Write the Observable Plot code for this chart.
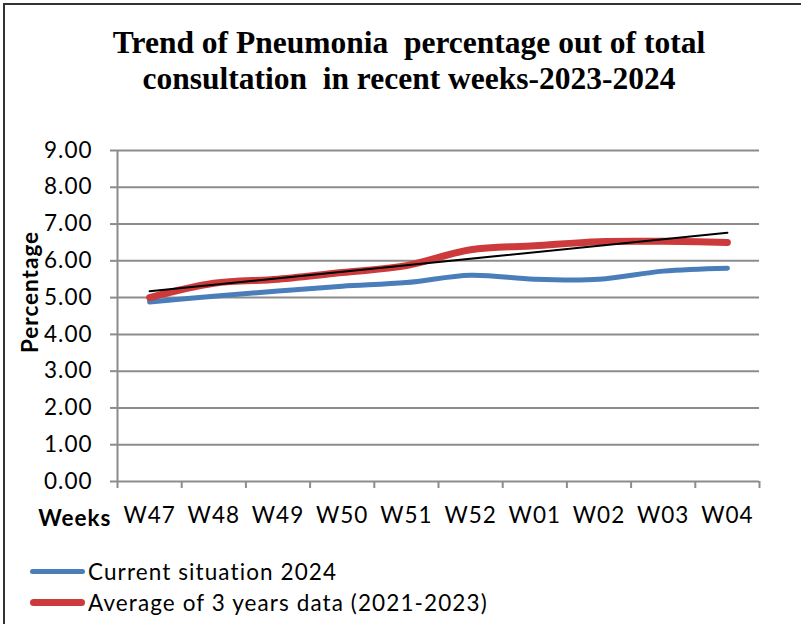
<!DOCTYPE html>
<html>
<head>
<meta charset="utf-8">
<script src="https://cdn.jsdelivr.net/npm/d3@7"></script>
<script src="https://cdn.jsdelivr.net/npm/@observablehq/plot@0.6"></script>
<style>
  html, body { margin: 0; padding: 0; background: #fff; }
  body { width: 801px; height: 624px; position: relative; overflow: hidden; }
  #border { position: absolute; left: 3px; top: 3px; width: 800px; height: 625px; border-left: 2px solid #333; border-top: 2px solid #333; box-sizing: border-box; }
  #title { position: absolute; top: 25px; left: 0; width: 818px; text-align: center; font: bold 31.5px "Liberation Serif", serif; line-height: 36px; color: #000; }
  #chart { position: absolute; top: 130px; left: 0; }
  #legend { position: absolute; left: 30px; top: 556px; font: 22.5px Lato, sans-serif; letter-spacing: 1.1px; color: #000; }
  .row { display: flex; align-items: center; height: 31px; }
  .sw { width: 55px; border-radius: 4px; margin-right: 3px; }
</style>
</head>
<body>
<div id="border"></div>
<div id="title">Trend of Pneumonia&nbsp; percentage out of total<br>consultation&nbsp; in recent weeks-2023-2024</div>
<div id="chart"></div>
<div id="legend"></div>
<script>
const weeks = ["W47", "W48", "W49", "W50", "W51", "W52", "W01", "W02", "W03", "W04"];
const current2024 = [4.88, 5.04, 5.18, 5.31, 5.41, 5.61, 5.50, 5.50, 5.72, 5.80];
const average3y = [5.00, 5.39, 5.50, 5.68, 5.87, 6.30, 6.41, 6.52, 6.53, 6.50];
const seriesNames = ["Current situation 2024", "Average of 3 years data (2021-2023)"];
const colors = ["#4a7ebb", "#cd3a3b"];
const widths = [5, 7];
const yTicks = d3.range(0, 10);

const cur = weeks.map((w, i) => ({i, week: w, v: current2024[i]}));
const avg = weeks.map((w, i) => ({i, week: w, v: average3y[i]}));

const grey = "#8c8c8c";
const plot = Plot.plot({
  width: 801,
  height: 400,
  marginLeft: 117,
  marginRight: 42,
  marginTop: 20,
  marginBottom: 49,
  style: {fontFamily: "Lato, sans-serif", fontSize: "22.5px", letterSpacing: "1px", color: "#000", background: "transparent"},
  x: {type: "linear", domain: [-0.5, weeks.length - 0.5]},
  y: {domain: [0, 9]},
  marks: [
    Plot.gridY({ticks: yTicks.slice(1), stroke: grey, strokeOpacity: 1, strokeWidth: 2}),
    Plot.ruleY([0], {stroke: grey, strokeWidth: 2}),
    Plot.ruleX([-0.5], {stroke: grey, strokeWidth: 2}),
    Plot.axisY({ticks: yTicks, tickSize: 7, tickPadding: 18, tickFormat: d3.format(".2f"), stroke: grey, strokeWidth: 2, label: null}),
    Plot.axisX({ticks: d3.range(-0.5, weeks.length, 1), tickSize: 7, tickFormat: () => "", stroke: grey, strokeWidth: 2, label: null}),
    Plot.axisX({ticks: d3.range(weeks.length), tickSize: 0, tickPadding: 26, tickFormat: i => weeks[i], label: null}),
    Plot.text(["Weeks"], {frameAnchor: "bottom-left", textAnchor: "end", lineAnchor: "middle", dx: -6, dy: 37, fontWeight: "bold"}),
    Plot.text(["Percentage"], {frameAnchor: "left", textAnchor: "middle", lineAnchor: "middle", rotate: -90, dx: -87, dy: -24, fontWeight: "bold"}),
    Plot.line(cur, {x: "i", y: "v", stroke: colors[0], strokeWidth: widths[0], curve: "catmull-rom"}),
    Plot.line(avg, {x: "i", y: "v", stroke: colors[1], strokeWidth: widths[1], curve: "catmull-rom"}),
    Plot.linearRegressionY(avg, {x: "i", y: "v", stroke: "#000", strokeWidth: 2, ci: 0})
  ]
});
document.getElementById("chart").append(plot);

const legend = document.getElementById("legend");
seriesNames.forEach((name, k) => {
  const row = document.createElement("div");
  row.className = "row";
  const sw = document.createElement("div");
  sw.className = "sw";
  sw.style.height = widths[k] + "px";
  sw.style.background = colors[k];
  const t = document.createElement("span");
  t.textContent = name;
  row.append(sw, t);
  legend.append(row);
});
</script>
</body>
</html>
